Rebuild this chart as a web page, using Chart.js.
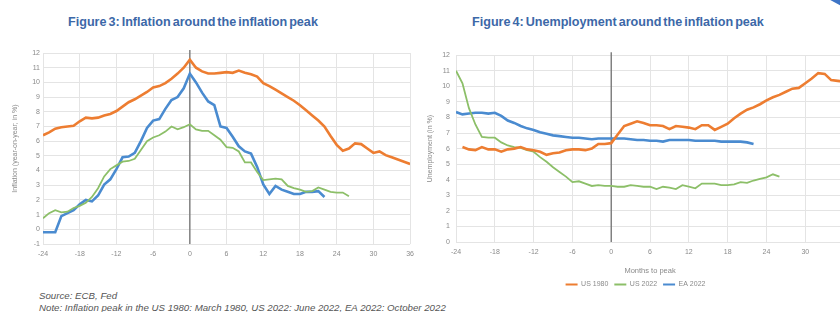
<!DOCTYPE html>
<html>
<head>
<meta charset="utf-8">
<script src="https://cdn.jsdelivr.net/npm/chart.js@4.4.1/dist/chart.umd.min.js"></script>
<style>
  html, body { margin:0; padding:0; background:#fff; width:840px; height:312px; overflow:hidden; position:relative; font-family:"Liberation Sans", Arial, sans-serif; }
  .title { position:absolute; top:15px; color:#3c68a8; font-weight:bold; font-size:12.6px; letter-spacing:0px; word-spacing:-1.5px; white-space:nowrap; }
  .note { position:absolute; left:39px; font-style:italic; font-size:9.7px; color:#555; white-space:nowrap; }
  #c1wrap { position:absolute; left:0; top:45px; width:420px; height:217px; }
  #c2wrap { position:absolute; left:420px; top:45px; width:434px; height:253px; }
  .swoosh { position:absolute; left:818px; top:-6px; width:34px; height:8px; background:#3d74c6; transform:rotate(28deg); border-radius:4px; }
</style>
</head>
<body>
<div class="title" style="left:68px;">Figure 3: Inflation around the inflation peak</div>
<div class="title" style="left:472px;">Figure 4: Unemployment around the inflation peak</div>
<div class="swoosh"></div>
<div id="c1wrap"><canvas id="c1" width="420" height="217"></canvas></div>
<div id="c2wrap"><canvas id="c2" width="434" height="253"></canvas></div>
<div class="note" style="top:290px;">Source: ECB, Fed</div>
<div class="note" style="top:302px;">Note: Inflation peak in the US 1980: March 1980, US 2022: June 2022, EA 2022: October 2022</div>
<script>
const months = [-24,-23,-22,-21,-20,-19,-18,-17,-16,-15,-14,-13,-12,-11,-10,-9,-8,-7,-6,-5,-4,-3,-2,-1,0,
  1,2,3,4,5,6,7,8,9,10,11,12,13,14,15,16,17,18,19,20,21,22,23,24,25,26,27,28,29,30,31,32,33,34,35,36];

const seriesNames = ["US 1980", "US 2022", "EA 2022"];

// Figure 3: inflation (year-on-year, %)
const inflUS1980 = [6.4,6.6,6.85,6.95,7.0,7.05,7.35,7.6,7.55,7.6,7.75,7.85,8.05,8.35,8.65,8.85,9.1,9.35,9.65,9.75,9.95,10.25,10.6,11.0,11.55,
  11.0,10.75,10.6,10.6,10.65,10.7,10.65,10.8,10.65,10.55,10.4,9.95,9.75,9.5,9.25,9.0,8.75,8.45,8.1,7.75,7.4,7.0,6.35,5.75,5.35,5.5,5.85,5.8,5.5,5.2,5.3,5.05,4.9,4.75,4.6,4.45];
const inflUS2022 = [0.75,1.1,1.3,1.15,1.2,1.45,1.6,1.8,2.2,2.8,3.6,4.1,4.35,4.6,4.65,4.8,5.4,6.0,6.25,6.4,6.65,7.0,6.8,6.95,7.15,
  6.8,6.7,6.7,6.4,6.1,5.6,5.55,5.3,4.55,4.55,3.9,3.35,3.4,3.45,3.4,2.95,2.8,2.7,2.55,2.6,2.85,2.7,2.55,2.5,2.5,2.25,
  null,null,null,null,null,null,null,null,null,null];
const inflEA2022 = [-0.2,-0.2,-0.2,0.9,1.1,1.3,1.7,2.0,1.9,2.3,3.05,3.4,4.1,4.9,4.95,5.2,6.0,6.9,7.4,7.5,8.2,8.8,9.0,9.6,10.6,
  10.0,9.3,8.7,8.45,7.0,6.9,6.3,5.65,5.3,5.15,4.25,3.05,2.4,2.95,2.7,2.55,2.4,2.4,2.55,2.55,2.6,2.2,
  null,null,null,null,null,null,null,null,null,null,null,null,null,null];

// Figure 4: unemployment (%)
const unempUS1980 = [null,6.1,5.95,5.9,6.1,5.95,5.95,5.8,5.95,6.0,6.1,5.95,5.9,5.8,5.6,5.7,5.75,5.9,5.95,5.95,5.9,6.0,6.3,6.3,6.35,
  6.9,7.45,7.6,7.75,7.65,7.5,7.5,7.45,7.25,7.45,7.4,7.35,7.25,7.5,7.5,7.2,7.4,7.6,7.95,8.25,8.5,8.65,8.85,9.1,9.3,9.45,9.65,9.85,9.9,10.2,10.5,10.85,10.8,10.4,10.35,10.3];
const unempUS2022 = [11.0,10.2,8.6,7.55,6.75,6.7,6.7,6.4,6.2,6.1,6.05,5.9,5.8,5.45,5.15,4.8,4.5,4.2,3.85,3.9,3.75,3.6,3.65,3.6,3.6,
  3.55,3.55,3.65,3.6,3.55,3.55,3.4,3.55,3.5,3.4,3.65,3.55,3.45,3.75,3.75,3.75,3.65,3.65,3.7,3.85,3.8,3.95,4.05,4.15,4.35,4.2,
  null,null,null,null,null,null,null,null,null,null];
const unempEA2022 = [8.35,8.2,8.25,8.3,8.3,8.25,8.3,8.1,7.8,7.65,7.45,7.3,7.2,7.05,6.95,6.85,6.8,6.75,6.7,6.7,6.65,6.6,6.65,6.65,6.65,
  6.65,6.65,6.6,6.55,6.55,6.5,6.5,6.45,6.55,6.55,6.55,6.55,6.5,6.5,6.5,6.5,6.45,6.45,6.45,6.45,6.4,6.3,
  null,null,null,null,null,null,null,null,null,null,null,null,null,null];

const xTickValues = [-24,-18,-12,-6,0,6,12,18,24,30,36];

const colors = ["#ED7D31", "#8CBF68", "#4A8BD0"];
const widths = [2.6, 1.8, 2.6];

function pts(vals) { return months.map((m, i) => ({x: m, y: vals[i]})); }

const zeroLine = {
  id: 'zeroLine',
  beforeDatasetsDraw(chart) {
    const {ctx, chartArea, scales} = chart;
    const x = scales.x.getPixelForValue(0);
    ctx.save();
    ctx.strokeStyle = '#7a7a7a';
    ctx.lineWidth = 1.4;
    ctx.beginPath();
    ctx.moveTo(x, chartArea.top - 3);
    ctx.lineTo(x, chartArea.bottom);
    ctx.stroke();
    ctx.restore();
  }
};

const FAM = "'Liberation Sans', Arial, sans-serif";
const tickFont = {family: FAM, size: 7};
const gridColor = '#e4e4e4';

function makeDatasets(arrs) {
  return arrs.map((a, i) => ({
    label: seriesNames[i], data: pts(a), borderColor: colors[i], backgroundColor: colors[i],
    borderWidth: widths[i], pointRadius: 0, tension: 0, spanGaps: false
  }));
}

function xScale(extra) {
  return Object.assign({
    type: 'linear', min: -24, max: 36,
    afterBuildTicks(axis) { axis.ticks = xTickValues.map(v => ({value: v})); },
    grid: {color: gridColor, drawTicks: false},
    border: {display: false},
    ticks: {autoSkip: false, maxTicksLimit: 30, font: tickFont, color: '#8a8a8a', padding: 6, maxRotation: 0,
      callback: (v) => String(v)}
  }, extra);
}

new Chart(document.getElementById('c1'), {
  type: 'line',
  data: {datasets: makeDatasets([inflUS1980, inflUS2022, inflEA2022])},
  options: {
    responsive: false, animation: false,
    layout: {padding: {top: 8, right: 8, left: 11, bottom: 0}},
    plugins: {legend: {display: false}, tooltip: {enabled: false}},
    scales: {
      x: xScale({afterFit(a) { a.height = 18; }}),
      y: {
        min: -1, max: 12,
        ticks: {stepSize: 1, font: tickFont, color: '#8a8a8a', padding: 3},
        grid: {color: gridColor, drawTicks: false},
        border: {display: false},
        title: {display: true, text: 'Inflation (year-on-year; in %)', font: {family: FAM, size: 7}, color: '#8a8a8a', padding: 0},
        afterFit(a) { a.width = 32; }
      }
    }
  },
  plugins: [zeroLine]
});

new Chart(document.getElementById('c2'), {
  type: 'line',
  data: {datasets: makeDatasets([unempUS1980, unempUS2022, unempEA2022])},
  options: {
    responsive: false, animation: false,
    layout: {padding: {top: 8, right: 9, left: 6, bottom: 0}},
    plugins: {
      legend: {display: true, position: 'bottom',
        labels: {boxWidth: 12, boxHeight: 2, padding: 6, font: {family: FAM, size: 7}, color: '#8a8a8a',
          generateLabels(chart) {
            const items = Chart.defaults.plugins.legend.labels.generateLabels(chart);
            items.forEach(it => { it.lineWidth = 0; it.strokeStyle = 'rgba(0,0,0,0)'; });
            return items;
          }}},
      tooltip: {enabled: false}
    },
    scales: {
      x: xScale({
        title: {display: true, text: 'Months to peak', font: {family: FAM, size: 7.5}, color: '#8a8a8a', padding: 0},
        afterFit(a) { a.height = 33; }
      }),
      y: {
        min: 0, max: 12,
        ticks: {stepSize: 1, font: tickFont, color: '#8a8a8a', padding: 6},
        grid: {color: gridColor, drawTicks: false},
        border: {display: false},
        title: {display: true, text: 'Unemployment (in %)', font: {family: FAM, size: 7}, color: '#8a8a8a', padding: 0},
        afterFit(a) { a.width = 30; }
      }
    }
  },
  plugins: [zeroLine]
});
</script>
</body>
</html>
